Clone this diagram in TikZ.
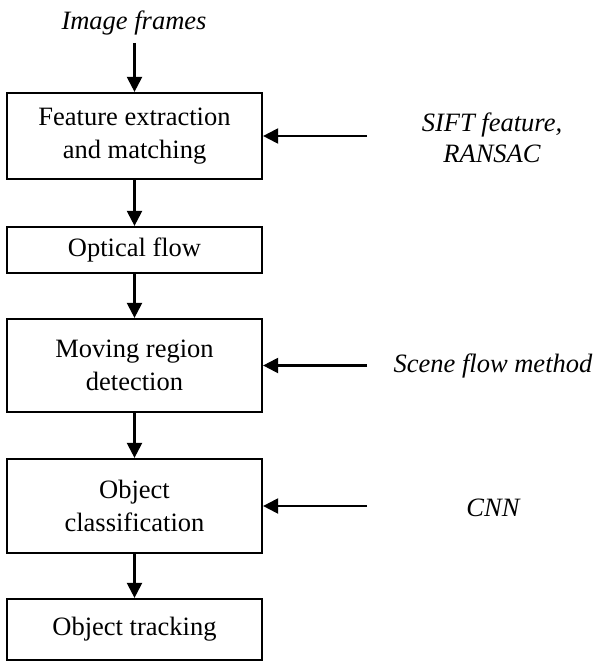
\documentclass[tikz,border=0pt]{standalone}
\usepackage{fontspec}
\setmainfont{Liberation Serif}
\usetikzlibrary{arrows.meta}
\begin{document}
\begin{tikzpicture}[x=1pt,y=-1pt,
  every node/.style={font=\fontsize{26.5}{33}\selectfont},
  stage/.style={draw=black,line width=2.2pt,minimum width=255pt,inner sep=0pt,align=center},
  note/.style={align=center,font=\fontsize{26.5}{31}\selectfont\itshape},
  arr/.style={line width=2.2pt,-{Triangle[length=15pt,width=15pt]}}]
\useasboundingbox (0,0) rectangle (598,661);
% main pipeline
\node[stage,minimum height=86pt] (b1) at (134.5,136) {Feature extraction\\and matching};
\node[stage,minimum height=46pt] (b2) at (134.5,250) {Optical flow};
\node[stage,minimum height=93pt] (b3) at (134.5,365.5) {Moving region\\detection};
\node[stage,minimum height=94pt] (b4) at (134.5,506) {Object\\classification};
\node[stage,minimum height=61pt] (b5) at (134.5,629.5) {Object tracking};
% input and side annotations
\node[note] (in) at (134,23) {Image frames};
\coordinate (inend) at (134.5,43);
\node[note] (sift) at (492,138) {SIFT feature,\\RANSAC};
\node[note] (scene) at (493,366) {Scene flow method};
\node[note] (cnn) at (493,508) {CNN};
\coordinate (a1) at (367,136);
\coordinate (a3) at (367,365.5);
\coordinate (a4) at (367,506);
% connectors
\draw[arr] (inend) -- (b1);
\draw[arr] (b1) -- (b2);
\draw[arr] (b2) -- (b3);
\draw[arr] (b3) -- (b4);
\draw[arr] (b4) -- (b5);
\draw[arr] (a1) -- (b1);
\draw[arr] (a3) -- (b3);
\draw[arr] (a4) -- (b4);
\end{tikzpicture}
\end{document}
